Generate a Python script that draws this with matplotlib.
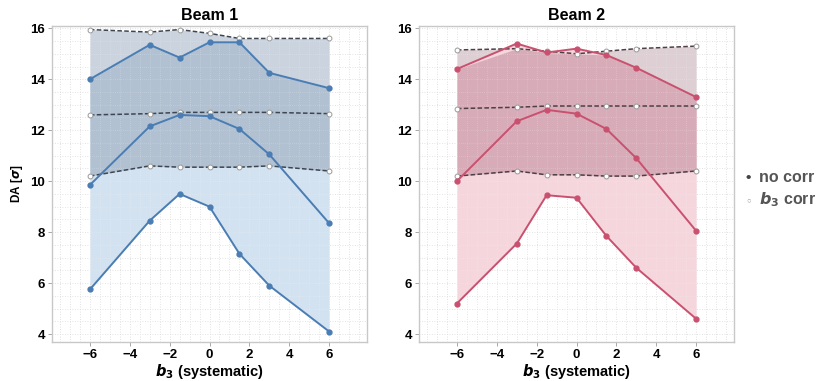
import numpy as np
import matplotlib.pyplot as plt

plt.rcParams['font.family'] = ['Liberation Sans', 'DejaVu Sans']
plt.rcParams['font.weight'] = 'bold'

b3 = [-6, -3, -1.5, 0, 1.5, 3, 6]

# Beam 1
b1_nocorr_max = [14.0, 15.35, 14.85, 15.45, 15.45, 14.25, 13.65]
b1_nocorr_mean = [9.85, 12.15, 12.6, 12.55, 12.05, 11.05, 8.35]
b1_nocorr_min = [5.75, 8.45, 9.5, 9.0, 7.15, 5.9, 4.1]
b1_corr_max = [15.95, 15.85, 15.95, 15.8, 15.6, 15.6, 15.6]
b1_corr_mean = [12.6, 12.65, 12.7, 12.7, 12.7, 12.7, 12.65]
b1_corr_min = [10.2, 10.6, 10.55, 10.55, 10.55, 10.6, 10.4]

# Beam 2
b2_nocorr_max = [14.4, 15.4, 15.05, 15.2, 14.95, 14.45, 13.3]
b2_nocorr_mean = [10.0, 12.35, 12.8, 12.65, 12.05, 10.9, 8.05]
b2_nocorr_min = [5.2, 7.55, 9.45, 9.35, 7.85, 6.6, 4.6]
b2_corr_max = [15.15, 15.2, 15.1, 15.0, 15.1, 15.2, 15.3]
b2_corr_mean = [12.85, 12.9, 12.95, 12.95, 12.95, 12.95, 12.95]
b2_corr_min = [10.2, 10.4, 10.25, 10.25, 10.2, 10.2, 10.4]

# title, line colour, nocorr band, corr band, overlap, dashed colour
panels = [
    ("Beam 1", "#4a7db3", "#d3e2f0", "#cad3de", "#b1c1d2", "#3d4650",
     b1_nocorr_max, b1_nocorr_mean, b1_nocorr_min, b1_corr_max, b1_corr_mean, b1_corr_min),
    ("Beam 2", "#c9516f", "#f5d6dd", "#ddcfd3", "#d7acb8", "#4d3f45",
     b2_nocorr_max, b2_nocorr_mean, b2_nocorr_min, b2_corr_max, b2_corr_mean, b2_corr_min),
]

fig = plt.figure(figsize=(8.24, 3.81), dpi=100)
lefts = [0.0631, 0.5085]

for i, (title, col, nfill, cfill, ofill, dcol, nmax, nmean, nmin, cmax, cmean, cmin) in enumerate(panels):
    ax = fig.add_axes([lefts[i], 0.1024, 0.3823, 0.8294])
    ax.set_xlim(-7.9, 7.9)
    ax.set_ylim(3.69, 16.09)

    # grid
    for gx in np.arange(-7.5, 8, 0.5):
        ax.axvline(gx, color="#d8d8d8", lw=0.6, ls=(0, (1, 2)), zorder=0)
    for gy in np.arange(4, 16.1, 0.5):
        ax.axhline(gy, color="#d8d8d8", lw=0.6, ls=(0, (1, 2)), zorder=0)

    # bands + overlap
    ax.fill_between(b3, cmin, cmax, color=cfill, lw=0, zorder=1)
    ax.fill_between(b3, nmin, nmax, color=nfill, lw=0, zorder=1)
    lo = np.maximum(nmin, cmin)
    hi = np.minimum(nmax, cmax)
    ax.fill_between(b3, lo, hi, where=hi > lo, interpolate=True, color=ofill, lw=0, zorder=2)
    for gx in np.arange(-6, 6.1, 0.5):
        ax.axvline(gx, color="#ffffff", lw=0.5, ls=(0, (1, 2)), alpha=0.35, zorder=2)
    for gy in np.arange(4, 16.1, 0.5):
        ax.axhline(gy, color="#ffffff", lw=0.5, ls=(0, (1, 2)), alpha=0.35, zorder=2)

    # b3 corr (dashed, open circles)
    for ys in (cmax, cmean, cmin):
        ax.plot(b3, ys, color=dcol, lw=1.1, ls=(0, (3, 1.5)), zorder=3)
        ax.plot(b3, ys, ls="none", marker="o", ms=3.5, mfc="white", mec="#9a9a9a",
                mew=0.7, zorder=4)

    # no corr (solid, filled dots)
    for ys in (nmax, nmean, nmin):
        ax.plot(b3, ys, color=col, lw=1.4, marker="o", ms=3.5, zorder=5)

    ax.set_xticks([-6, -4, -2, 0, 2, 4, 6])
    ax.set_xticklabels(["\u22126", "\u22124", "\u22122", "0", "2", "4", "6"])
    ax.set_yticks([4, 6, 8, 10, 12, 14, 16])
    ax.tick_params(labelsize=9.5, length=3, width=0.6, color="#999999", pad=2)
    for lab in ax.get_xticklabels() + ax.get_yticklabels():
        lab.set_fontweight("bold")
    for s in ax.spines.values():
        s.set_color("#c8c8c8")
        s.set_linewidth(1.0)
    ax.set_title(title, fontsize=11.5, fontweight="bold", pad=4)
    ax.set_xlabel(r"$\boldsymbol{b}_3$ (systematic)", fontsize=10.5, fontweight="bold", labelpad=1)
    if i == 0:
        ax.set_ylabel(r"DA [$\sigma$]", fontsize=8.5, fontweight="bold")
        ax.yaxis.set_label_coords(-0.086, 0.5)

# legend on the right
fig.text(0.905, 0.533, "\u2022", color="#444444", fontsize=11, va="center", ha="left")
fig.text(0.921, 0.533, "no corr", color="#555555", fontsize=11.5, fontweight="bold", va="center")
fig.text(0.906, 0.472, "\u25cb", color="#999999", fontsize=5.5, va="center", ha="left")
fig.text(0.921, 0.475, r"$\boldsymbol{b}_3$ corr", color="#555555", fontsize=11.5, fontweight="bold", va="center")

fig.savefig("out.png", dpi=100)
